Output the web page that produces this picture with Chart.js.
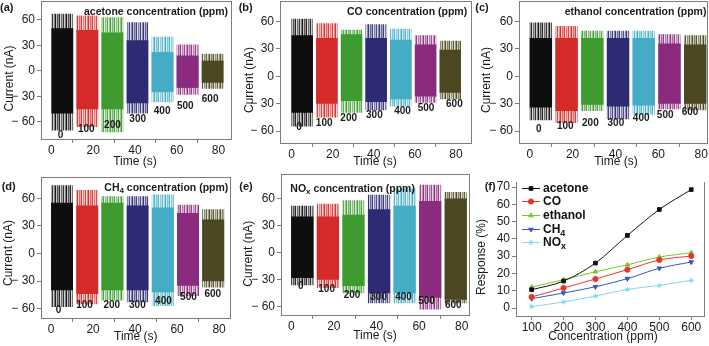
<!DOCTYPE html>
<html>
<head>
<meta charset="utf-8">
<script src="https://cdn.jsdelivr.net/npm/chart.js@4.4.1/dist/chart.umd.min.js"></script>
<style>
  html, body { margin: 0; padding: 0; background: #fff; }
  #fig { position: relative; width: 709px; height: 346px; overflow: hidden; }
  #fig canvas { position: absolute; }
</style>
</head>
<body>
<div id="fig">
  <canvas id="pa" width="236" height="172" style="left:0;top:0"></canvas>
  <canvas id="pb" width="236" height="172" style="left:236px;top:0"></canvas>
  <canvas id="pc" width="237" height="172" style="left:472px;top:0"></canvas>
  <canvas id="pd" width="236" height="174" style="left:0;top:172px"></canvas>
  <canvas id="pe" width="236" height="174" style="left:236px;top:172px"></canvas>
  <canvas id="pf" width="237" height="174" style="left:472px;top:172px"></canvas>
</div>
<script>
const FONT = "'Liberation Sans', Arial, Helvetica, sans-serif";
const AXIS = '#7d7d7d';

// exposure segments (centre time of each 10 s burst) and their concentrations
const segMid = [5.2, 17.2, 29.2, 41.2, 53.2, 65.2, 77.2];
const concLabels = ['0', '100', '200', '300', '400', '500', '600'];
const timeTicks = [0, 20, 40, 60, 80];
const currentTicks = [-60, -30, 0, 30, 60];

// current noise envelopes (nA): dense band and spike extremes
const acetoneCoreHi = [50, 48, 45, 36, 22, 18, 12];
const acetoneCoreLo = [-50, -45, -45, -38, -25, -20, -14];
const acetonePeakHi = [67, 65, 63, 57, 40, 31, 20];
const acetonePeakLo = [-70, -66, -72, -50, -37, -28, -21];

const coCoreHi = [45, 42, 46, 42, 40, 35, 29];
const coCoreLo = [-40, -30, -27, -28, -25, -22, -18];
const coPeakHi = [63, 58, 51, 57, 52, 45, 39];
const coPeakLo = [-55, -45, -40, -37, -33, -29, -25];

const ethanolCoreHi = [42, 42, 42, 42, 42, 36, 35];
const ethanolCoreLo = [-34, -38, -31, -33, -32, -30, -30];
const ethanolPeakHi = [59, 55, 50, 50, 50, 46, 45];
const ethanolPeakLo = [-48, -51, -38, -47, -42, -36, -37];

const ch4CoreHi = [55, 52, 55, 52, 50, 44, 37];
const ch4CoreLo = [-40, -44, -40, -40, -42, -35, -30];
const ch4PeakHi = [74, 69, 62, 62, 64, 53, 48];
const ch4PeakLo = [-58, -55, -51, -53, -57, -46, -37];

const noxCoreHi = [40, 40, 42, 48, 52, 57, 60];
const noxCoreLo = [-28, -30, -37, -45, -45, -50, -52];
const noxPeakHi = [52, 54, 58, 64, 71, 75, 67];
const noxPeakLo = [-36, -39, -45, -56, -56, -63, -56];

// panel (f): response vs concentration
const concentration = [100, 200, 300, 400, 500, 600];
const respAcetone = [10.6, 15.6, 26, 42, 57, 68.5];
const respCO = [6.4, 11.6, 16.8, 22.2, 27.8, 30.1];
const respEthanol = [12.1, 16.4, 21, 25, 29.5, 32];
const respCH4 = [5.4, 8.7, 12.3, 17, 23, 26.6];
const respNOx = [0.8, 3.5, 6.9, 10.8, 13.1, 16];
const gasNames = ['acetone', 'CO', 'ethanol', 'CH_4', 'NO_x'];
const concTicks = [100, 200, 300, 400, 500, 600];
const respTicks = [0, 10, 20, 30, 40, 50, 60, 70];

const segColors = ['#0e0e0e', '#d62a28', '#3d9b2f', '#2d2b73', '#45acc5', '#8b2b7d', '#4b4721'];
const gasColors = ['#111111', '#e8352a', '#7ec22e', '#3658c0', '#84d8e6'];
const gasMarkers = ['rect', 'circle', 'triangle', 'triangle', 'star'];
const gasRotation = [0, 0, 0, 180, 0];
// column opacities of the spike fringe texture
const fringeAlpha = [0.95, 0.25, 0.7, 0.45, 0.9, 0.15, 0.6, 0.35, 0.85, 0.2, 0.55];

const panels = [
  { id: 'pa', letter: '(a)', letterX: 0, letterY: 7.5, title: 'acetone concentration (ppm)', titleX: 84, titleY: 11.7,
    area: { l: 41, t: 1, r: 231, b: 139 }, xr: [-5, 86], yr: [-80, 82],
    yTitle: [10, 78.5], xTitle: [135, 162],
    coreHi: acetoneCoreHi, coreLo: acetoneCoreLo, peakHi: acetonePeakHi, peakLo: acetonePeakLo,
    tags: [[4.3, -76], [16.7, -68], [29.2, -63.5], [41.3, -57], [53, -47.5], [64.1, -41], [76, -33]] },
  { id: 'pb', letter: '(b)', letterX: 2.7, letterY: 8, title: 'CO concentration (ppm)', titleX: 111, titleY: 12.3,
    area: { l: 44, t: 1, r: 235, b: 143 }, xr: [-5.6, 87.3], yr: [-73, 82.5],
    yTitle: [13.3, 80], xTitle: [139, 161.7],
    coreHi: coCoreHi, coreLo: coCoreLo, peakHi: coPeakHi, peakLo: coPeakLo,
    tags: [[3.7, -55.6], [15.9, -51], [27.8, -46], [40.3, -42.4], [54, -38], [65.4, -34.4], [79.2, -30.7]] },
  { id: 'pc', letter: '(c)', letterX: 3.3, letterY: 8, title: 'ethanol concentration (ppm)', titleX: 92.7, titleY: 12.3,
    area: { l: 47, t: 1, r: 235, b: 143 }, xr: [-5, 82.7], yr: [-73, 82.5],
    yTitle: [15, 80], xTitle: [144, 161.7],
    coreHi: ethanolCoreHi, coreLo: ethanolCoreLo, peakHi: ethanolPeakHi, peakLo: ethanolPeakLo,
    tags: [[4.2, -58], [16.6, -54.5], [28.3, -51], [40.2, -51], [52, -46], [63.2, -43], [74.8, -39]] },
  { id: 'pd', letter: '(d)', letterX: 1.7, letterY: 15, title: 'CH_4 concentration (ppm)', titleX: 104.3, titleY: 15.7,
    area: { l: 41, t: 5, r: 230, b: 146 }, xr: [-4.8, 85.2], yr: [-70, 83],
    yTitle: [8.3, 81], xTitle: [135.8, 165],
    coreHi: ch4CoreHi, coreLo: ch4CoreLo, peakHi: ch4PeakHi, peakLo: ch4PeakLo,
    tags: [[3.5, -62], [15.9, -56.7], [28.9, -56.7], [41.1, -56.7], [53.5, -51.3], [65.4, -47.7], [77, -44]] },
  { id: 'pe', letter: '(e)', letterX: 3.3, letterY: 15, title: 'NO_x concentration (ppm)', titleX: 54.3, titleY: 16.7,
    area: { l: 45, t: 2, r: 233, b: 143 }, xr: [-4.8, 83.4], yr: [-69, 87],
    yTitle: [12.3, 81.7], xTitle: [139, 164],
    coreHi: noxCoreHi, coreLo: noxCoreLo, peakHi: noxPeakHi, peakLo: noxPeakLo,
    tags: [[4.5, -37.5], [16.6, -41], [28.5, -46.7], [41, -49.7], [52.7, -49.7], [63.5, -54], [76, -57.8]] }
];

const panelF = { id: 'pf', letter: '(f)', letterX: 12.7, letterY: 15,
  area: { l: 44, t: 10, r: 233, b: 144 }, xr: [51, 640], yr: [-4.6, 72.9],
  yTitle: [10, 85], xTitle: [131, 165], legendX: 50, legendY: 15.7, legendStep: 13.6 };

function withAlpha(hex, a) {
  const n = parseInt(hex.slice(1), 16);
  return 'rgba(' + (n >> 16) + ',' + ((n >> 8) & 255) + ',' + (n & 255) + ',' + a + ')';
}

// vertical stripes so the spike band reads like dense noise
function fringePattern(hex) {
  const c = document.createElement('canvas');
  c.width = fringeAlpha.length;
  c.height = 1;
  const g = c.getContext('2d');
  fringeAlpha.forEach((a, i) => {
    g.fillStyle = withAlpha(hex, a);
    g.fillRect(i, 0, 1, 1);
  });
  return g.createPattern(c, 'repeat');
}

// text with '_c' meaning subscript c
function drawRich(ctx, str, x, y, size, weight, align) {
  const parts = [];
  for (let i = 0; i < str.length; i++) {
    if (str[i] === '_' && i + 1 < str.length) { parts.push([str[i + 1], true]); i++; }
    else if (parts.length && !parts[parts.length - 1][1]) parts[parts.length - 1][0] += str[i];
    else parts.push([str[i], false]);
  }
  const fnt = sub => weight + ' ' + (sub ? Math.round(size * 0.72) : size) + 'px ' + FONT;
  let total = 0;
  parts.forEach(p => { ctx.font = fnt(p[1]); p.push(ctx.measureText(p[0]).width); total += p[2]; });
  let cx = align === 'center' ? x - total / 2 : (align === 'right' ? x - total : x);
  ctx.textAlign = 'left';
  ctx.textBaseline = 'middle';
  parts.forEach(p => {
    ctx.font = fnt(p[1]);
    ctx.fillText(p[0], cx, p[1] ? y + size * 0.32 : y);
    cx += p[2];
  });
}

function fmtTick(v) {
  return v < 0 ? '\u2212 ' + (-v) : String(v);
}

function textPlugin(p, xTitle, yTitle) {
  return {
    id: 'texts',
    afterDraw(chart) {
      const ctx = chart.ctx, xs = chart.scales.x, ys = chart.scales.y;
      ctx.save();
      ctx.fillStyle = '#1a1a1a';
      drawRich(ctx, p.letter, p.letterX, p.letterY, 11, 'bold', 'left');
      drawRich(ctx, xTitle, p.xTitle[0], p.xTitle[1], 12, 'normal', 'center');
      ctx.save();
      ctx.translate(p.yTitle[0], p.yTitle[1]);
      ctx.rotate(-Math.PI / 2);
      drawRich(ctx, yTitle, 0, 0, 12, 'normal', 'center');
      ctx.restore();

      if (p.title) drawRich(ctx, p.title, p.titleX, p.titleY, 10.5, 'bold', 'left');
      if (p.tags) {
        p.tags.forEach((t, i) => {
          drawRich(ctx, concLabels[i], xs.getPixelForValue(t[0]), ys.getPixelForValue(t[1]), 10, 'bold', 'center');
        });
      }
      if (p.legendX !== undefined) {
        const dp = Chart.helpers && Chart.helpers.drawPoint;
        chart.data.datasets.forEach((ds, i) => {
          const y = Math.round(p.legendY + i * p.legendStep) + 0.5;
          ctx.strokeStyle = ds.borderColor;
          ctx.fillStyle = ds.borderColor;
          ctx.lineWidth = 1;
          if (dp) {
            dp(ctx, { pointStyle: 'line', rotation: 0, radius: 9, borderWidth: 1 }, p.legendX + 9, y);
            dp(ctx, { pointStyle: ds.pointStyle, rotation: ds.pointRotation, radius: 2.6, borderWidth: 1 }, p.legendX + 9, y);
          } else {
            ctx.fillRect(p.legendX, y - 0.5, 18, 1);
            ctx.fillRect(p.legendX + 7, y - 2.5, 5, 5);
          }
          ctx.fillStyle = '#111';
          drawRich(ctx, ds.label, p.legendX + 21, y, 12, 'bold', 'left');
        });
      }
      ctx.restore();
    }
  };
}

function axisOptions(p, ticks, pos) {
  const c = document.getElementById(p.id);
  const o = {
    type: 'linear',
    offset: false,
    grid: { display: true, drawOnChartArea: false, drawTicks: true, tickLength: 4, color: AXIS, lineWidth: 1 },
    border: { display: true, color: AXIS, width: 1 },
    afterBuildTicks: s => { s.ticks = ticks.map(v => ({ value: v })); },
    ticks: { color: '#1a1a1a', font: { family: FONT, size: 12 }, autoSkip: false, maxRotation: 0, callback: fmtTick }
  };
  if (pos === 'x') {
    o.min = p.xr[0]; o.max = p.xr[1];
    o.ticks.padding = 0;
    o.afterFit = s => { s.height = c.height - p.area.b; s.paddingLeft = 0; s.paddingRight = 0; };
  } else {
    o.min = p.yr[0]; o.max = p.yr[1];
    o.ticks.padding = 2;
    o.afterFit = s => { s.width = p.area.l; s.paddingTop = 0; s.paddingBottom = 0; };
  }
  return o;
}

// plain edge line for the top / right side of the frame
function edgeAxis(pos) {
  return {
    type: 'linear',
    position: pos,
    display: true,
    ticks: { display: false },
    grid: { display: false, drawTicks: false },
    border: { display: true, color: AXIS, width: 1 },
    afterFit: s => {
      if (pos === 'top') s.height = 0; else s.width = 0;
      s.paddingTop = 0; s.paddingBottom = 0; s.paddingLeft = 0; s.paddingRight = 0;
    }
  };
}

function makeNoisePanel(p) {
  const cv = document.getElementById(p.id);
  new Chart(cv, {
    type: 'bar',
    data: {
      datasets: [
        {
          data: segMid.map((x, i) => ({ x: x, y: [p.coreLo[i], p.coreHi[i]] })),
          backgroundColor: segColors,
          grouped: false, barPercentage: 0.87, categoryPercentage: 1, borderWidth: 0, order: 1
        },
        {
          data: segMid.map((x, i) => ({ x: x, y: [p.peakLo[i], p.peakHi[i]] })),
          backgroundColor: segColors.map(fringePattern),
          grouped: false, barPercentage: 0.87, categoryPercentage: 1, borderWidth: 0, order: 2
        }
      ]
    },
    options: {
      responsive: false,
      animation: false,
      devicePixelRatio: 1,
      layout: { padding: { left: 0, top: p.area.t, right: cv.width - p.area.r, bottom: 0 } },
      plugins: { legend: { display: false }, tooltip: { enabled: false } },
      scales: {
        x: axisOptions(p, timeTicks, 'x'),
        y: axisOptions(p, currentTicks, 'y'),
        xTop: edgeAxis('top'),
        yRight: edgeAxis('right')
      }
    },
    plugins: [textPlugin(p, 'Time (s)', 'Current (nA)')]
  });
}

panels.forEach(makeNoisePanel);

// panel (f)
(function () {
  const p = panelF;
  const cv = document.getElementById(p.id);
  const series = [respAcetone, respCO, respEthanol, respCH4, respNOx];
  new Chart(cv, {
    type: 'line',
    data: {
      datasets: series.map((s, i) => ({
        label: gasNames[i],
        data: concentration.map((c, j) => ({ x: c, y: s[j] })),
        borderColor: gasColors[i],
        backgroundColor: gasColors[i],
        pointBackgroundColor: gasColors[i],
        pointBorderColor: gasColors[i],
        pointStyle: gasMarkers[i],
        pointRotation: gasRotation[i],
        pointRadius: 2.6,
        pointBorderWidth: 1,
        borderWidth: 1,
        tension: 0.4,
        cubicInterpolationMode: 'monotone',
        fill: false
      }))
    },
    options: {
      responsive: false,
      animation: false,
      devicePixelRatio: 1,
      layout: { padding: { left: 0, top: p.area.t, right: cv.width - p.area.r, bottom: 0 } },
      plugins: { legend: { display: false }, tooltip: { enabled: false } },
      scales: {
        x: axisOptions(p, concTicks, 'x'),
        y: axisOptions(p, respTicks, 'y'),
        yRight: edgeAxis('right')
      }
    },
    plugins: [textPlugin(p, 'Concentration (ppm)', 'Response (%)')]
  });
})();
</script>
</body>
</html>
